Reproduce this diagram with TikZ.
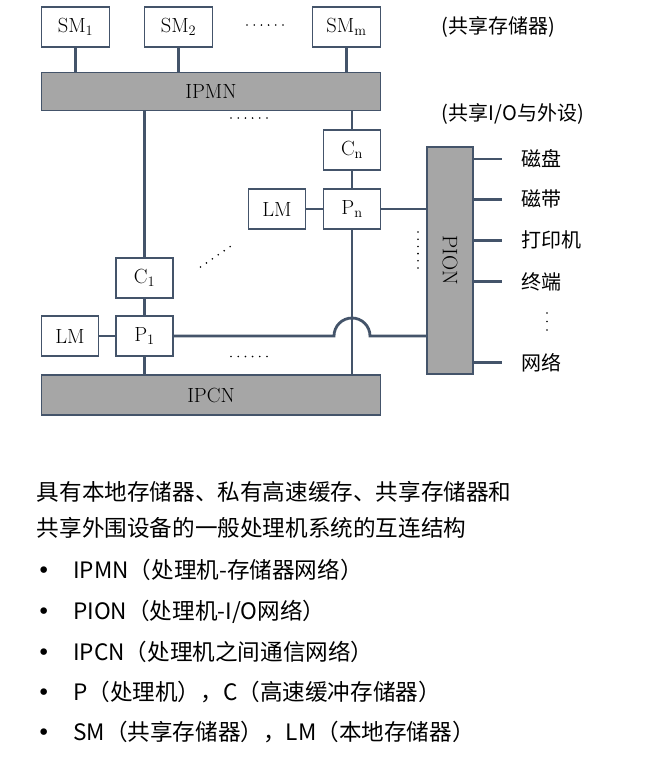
\documentclass[tikz,border=0pt]{standalone}
\usepackage{fontspec}
\newfontfamily\cjk{Noto Sans CJK SC}
\newfontfamily\bulletfont{DejaVu Sans}
\definecolor{lineblue}{HTML}{44546A}
\definecolor{netgray}{HTML}{A6A6A6}

\begin{document}
\begin{tikzpicture}[x=1pt,y=1pt,
  box/.style={draw=lineblue,line width=1.6pt,fill=white,minimum width=57pt,minimum height=40pt,inner sep=0pt,font=\fontsize{20.5}{24}\selectfont},
  net/.style={draw=lineblue,line width=1.6pt,fill=netgray,minimum width=339pt,minimum height=38pt,inner sep=0pt,font=\fontsize{20.5}{24}\selectfont},
  conn/.style={draw=lineblue,line width=2.8pt},
  dotline/.style={draw=black,line width=1.8pt,line cap=round,dash pattern=on 0pt off 7.2pt},
  dev/.style={anchor=west,inner sep=0pt,font=\cjk\fontsize{20}{24}\selectfont},
  note/.style={anchor=west,inner sep=0pt,font=\cjk\fontsize{22.6}{26}\selectfont}]
  \useasboundingbox (0,0) rectangle (651,-761);
  % memorias compartidas
  \node[box,minimum width=68pt] (sm1) at (75.5,-27) {SM$_1$};
  \node[box,minimum width=68pt] (sm2) at (178.5,-27) {SM$_2$};
  \node[box,minimum width=68pt] (smm) at (346.5,-27) {SM$_\mathrm{m}$};
  \draw[dotline] (247,-25) -- (284,-25);
  \node[dev] (smlabel) at (441.7,-27) {(共享存储器)};
  % redes IPMN / IPCN
  \node[net] (ipmn) at (211,-91.5) {IPMN};
  \node[net,minimum height=40pt] (ipcn) at (211,-395) {IPCN};
  \draw[conn] (sm1) -- (sm1 |- ipmn.north);
  \draw[conn] (sm2) -- (sm2 |- ipmn.north);
  \draw[conn] (smm) -- (smm |- ipmn.north);
  \draw[dotline] (231,-118) -- (268,-118);
  % procesador n
  \node[box] (cn) at (352,-150) {C$_\mathrm{n}$};
  \node[box] (pn) at (352,-209) {P$_\mathrm{n}$};
  \node[box] (lmn) at (277,-209) {LM};
  % procesador 1
  \node[box] (c1) at (144.5,-278) {C$_1$};
  \node[box] (p1) at (144.5,-336) {P$_1$};
  \node[box] (lm1) at (70,-336) {LM};
  \draw[dotline] (200.5,-267) -- (231,-246);
  \draw[dotline] (231,-356.5) -- (268,-356.5);
  % PION
  \node[draw=lineblue,line width=1.6pt,fill=netgray,minimum width=46pt,minimum height=227pt,inner sep=0pt] (pion) at (450,-260.6) {};
  \node[rotate=-90,inner sep=0pt,font=\fontsize{21}{24}\selectfont] (piontext) at (pion) {PION};
  \draw[dotline] (418,-232) -- (418,-268);
  \node[dev] (iolabel) at (441.7,-114) {(共享I/O与外设)};
  % enlaces
  \draw[conn] (c1) -- (c1 |- ipmn.south);
  \draw[conn] (c1) -- (p1);
  \draw[conn] (p1) -- (p1 |- ipcn.north);
  \draw[conn] (lm1) -- (p1);
  \draw[conn] (cn) -- (cn |- ipmn.south);
  \draw[conn] (cn) -- (pn);
  \draw[conn] (pn) -- (pn |- ipcn.north);
  \draw[conn] (lmn) -- (pn);
  \draw[conn] (pn.east) -- (pn.east -| pion.west);
  \coordinate (hump) at (pn |- p1.east);
  \draw[conn] (p1.east) -- ([xshift=-18pt]hump) arc[start angle=180,end angle=0,radius=18pt] -- (hump -| pion.west);
  % perifericos
  \foreach \y/\n/\t in {159/1/磁盘,199.3/2/磁带,240.3/3/打印机,281.7/4/终端,362.7/5/网络}{
    \node[dev] (dev\n) at (521.7,-\y) {\t};
    \draw[conn] (dev\n.west -| pion.east) -- ([xshift=-20pt]dev\n.west);
  }
  \draw[dotline,dash pattern=on 0pt off 8.5pt] (547,-313) -- (547,-331);
  % texto
  \node[note] (title1) at (36.7,-491.7) {具有本地存储器、私有高速缓存、共享存储器和};
  \node[note] (title2) at (36.7,-528.3) {共享外围设备的一般处理机系统的互连结构};
  \node[note] (item1) at (37,-570) {\makebox[36pt][l]{\bulletfont •}IPMN（处理机-存储器网络）};
  \node[note] (item2) at (37,-611.7) {\makebox[36pt][l]{\bulletfont •}PION（处理机-I/O网络）};
  \node[note] (item3) at (37,-651.7) {\makebox[36pt][l]{\bulletfont •}IPCN（处理机之间通信网络）};
  \node[note] (item4) at (37,-691.7) {\makebox[36pt][l]{\bulletfont •}P（处理机），C（高速缓冲存储器）};
  \node[note] (item5) at (37,-731.7) {\makebox[36pt][l]{\bulletfont •}SM（共享存储器），LM（本地存储器）};
\end{tikzpicture}
\end{document}
